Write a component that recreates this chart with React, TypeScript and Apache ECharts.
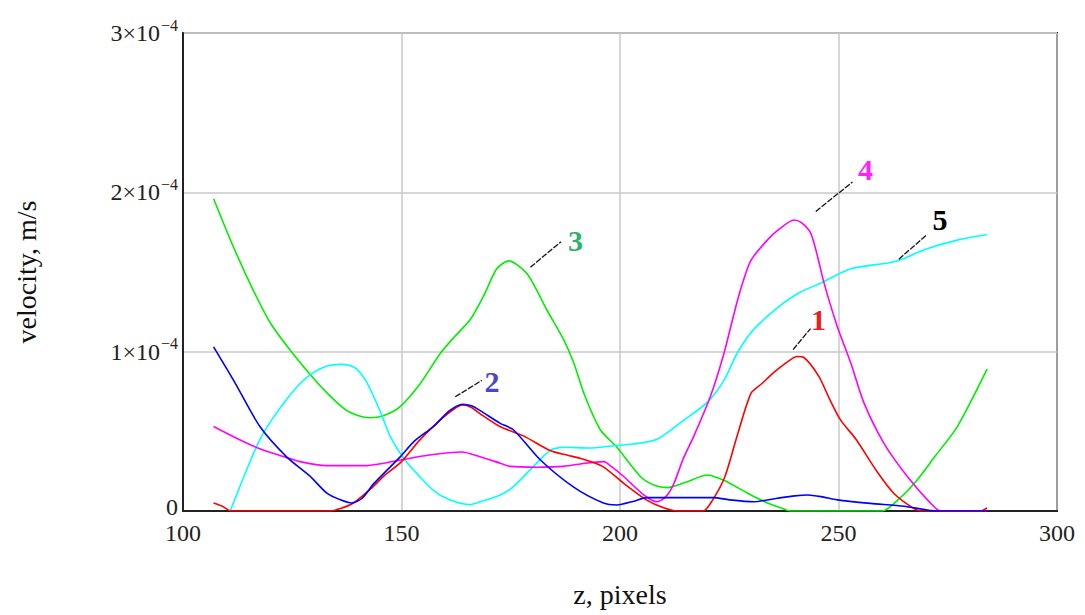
import React, { useEffect, useRef } from "react";
import * as echarts from "echarts";

// z (pixels) and velocity in units of 1e-4 m/s
const UNIT = 1e-4;

const curve1Red: number[][] = [
  [107, 0.05], [109, 0.03], [111, 0], [133.5, 0], [136, 0.015], [139, 0.05], [143, 0.14], [146, 0.22],
  [150, 0.31], [154, 0.44], [158, 0.55], [162, 0.64], [164, 0.665], [166, 0.65], [168, 0.61],
  [172.5, 0.53], [178, 0.47], [184, 0.38], [188, 0.35], [191, 0.33], [196, 0.28], [201, 0.17],
  [206, 0.07], [210, 0.02], [213.5, 0], [219, 0], [221, 0.06], [224, 0.215], [227, 0.49],
  [230, 0.74], [232.5, 0.8], [235, 0.865], [238, 0.93], [240.5, 0.97], [242, 0.965],
  [245.5, 0.845], [248, 0.7], [250.5, 0.57], [254, 0.45], [259, 0.24], [262.7, 0.11],
  [267, 0.02], [269, 0], [282.5, 0], [284, 0.02],
];

const curve2Blue: number[][] = [
  [107, 1.03], [112, 0.8], [117.6, 0.53], [123.7, 0.34], [129, 0.22], [133, 0.11], [136, 0.07],
  [138.6, 0.05], [141, 0.08], [143.6, 0.17], [149.7, 0.34], [153, 0.44], [157.3, 0.53],
  [161, 0.63], [164, 0.67], [166, 0.66], [168, 0.63], [172.6, 0.55], [175.6, 0.51],
  [181.8, 0.32], [189.4, 0.15], [196.2, 0.05], [199.3, 0.038], [203, 0.06], [206.2, 0.084],
  [221.4, 0.084], [225, 0.07], [230.6, 0.058], [236, 0.08], [240, 0.095], [243, 0.1],
  [246, 0.09], [249.7, 0.07], [257.3, 0.048], [265, 0.03], [272.6, 0], [284, 0],
];

const curve3Green: number[][] = [
  [107, 1.96], [111.5, 1.66], [116, 1.39], [120, 1.18], [124.5, 1.01], [129, 0.86], [133, 0.74],
  [137, 0.64], [140, 0.6], [142.8, 0.585], [146, 0.6], [149.7, 0.655], [154.3, 0.8],
  [158.9, 0.99], [162, 1.09], [165.7, 1.2], [168.8, 1.35], [171.8, 1.52], [174.5, 1.57],
  [178.7, 1.49], [183.3, 1.26], [187.1, 1.075], [189.4, 0.93], [192, 0.72], [195.5, 0.51],
  [199.3, 0.4], [204.7, 0.215], [208, 0.16], [210.8, 0.147], [215, 0.18], [219.9, 0.226],
  [224, 0.19], [229.1, 0.113], [233, 0.06], [236.7, 0.02], [239, 0], [260, 0], [264, 0.08],
  [268, 0.195], [272, 0.34], [277.2, 0.53], [284, 0.89],
];

const curve4Magenta: number[][] = [
  [107, 0.53], [112, 0.46], [117.6, 0.39], [122, 0.35], [126.8, 0.31], [132.9, 0.285],
  [142, 0.285], [149.7, 0.32], [156, 0.35], [163.8, 0.37], [168, 0.34], [172.6, 0.3],
  [174.9, 0.28], [181, 0.275], [187.1, 0.28], [192, 0.3], [196.3, 0.31], [198, 0.28],
  [200.9, 0.215], [205.5, 0.1], [208.5, 0.058], [210.5, 0.09], [212.3, 0.17], [214.5, 0.33],
  [216.9, 0.47], [220.7, 0.72], [223.8, 0.99], [226.1, 1.24], [227.6, 1.39], [229.9, 1.57],
  [233.7, 1.7], [236.5, 1.77], [239.8, 1.826], [241.5, 1.81], [243.6, 1.746], [245, 1.62],
  [246.7, 1.43], [249.7, 1.16], [252.8, 0.93], [255.8, 0.68], [260.4, 0.425], [265.8, 0.215],
  [271.1, 0.048], [273.4, 0], [284, 0],
];

const curve5Cyan: number[][] = [
  [110.8, 0], [114, 0.22], [117.6, 0.45], [120.5, 0.58], [123.7, 0.7], [126.8, 0.8],
  [129.9, 0.87], [133, 0.91], [136, 0.92], [138, 0.915], [139.8, 0.89], [141.8, 0.82],
  [143.6, 0.72], [145.5, 0.6], [147.4, 0.47], [150, 0.35], [152, 0.28], [157.3, 0.13],
  [161, 0.07], [165.7, 0.04], [168, 0.058], [172.6, 0.1], [175.6, 0.153], [179.5, 0.26],
  [184, 0.38], [187.1, 0.4], [193, 0.395], [198.6, 0.41], [203, 0.42], [208.5, 0.45],
  [214.6, 0.57], [219.9, 0.68], [223.8, 0.82], [226.8, 0.99], [230.6, 1.14], [236.7, 1.29],
  [241, 1.37], [245.9, 1.43], [252.8, 1.52], [261.9, 1.56], [265, 1.585], [269.6, 1.64],
  [277.2, 1.7], [284, 1.735],
];

// annotation label centres and leader lines [z, v(1e-4)]
const labelNames = ["1", "2", "3", "4", "5"];
const labelPos: number[][] = [[245.4, 1.2], [170.7, 0.81], [189.8, 1.7], [256.2, 2.145], [273.2, 1.83]];
const leaderStart: number[][] = [[239.6, 1.013], [162.3, 0.717], [179.5, 1.53], [244.8, 1.88], [263.8, 1.58]];
const leaderEnd: number[][] = [[243.6, 1.145], [168.4, 0.82], [186.5, 1.69], [253.2, 2.065], [270.3, 1.736]];

const lineColors = ["#ff0000", "#0000ff", "#00ee00", "#ff00ff", "#00ffff"];
const labelColors = ["#e82020", "#4848c4", "#30b070", "#ff20ff", "#000000"];

const xTicks = { min: 100, max: 300, interval: 50 };
const yTicks = { min: 0, max: 3, interval: 1 };

const FONT = "'Liberation Serif', 'Times New Roman', serif";

export default function App() {
  const ref = useRef<HTMLDivElement>(null);
  useEffect(() => {
    if (!ref.current) return;
    const chart = echarts.init(ref.current, undefined, { renderer: "svg" });
    const curves = [curve1Red, curve2Blue, curve3Green, curve4Magenta, curve5Cyan];
    const order = [2, 4, 3, 0, 1];
    const series = order.map((i) => ({
      type: "line",
      name: labelNames[i],
      data: curves[i].map((p) => [p[0], p[1] * UNIT]),
      showSymbol: false,
      smooth: 0.25,
      lineStyle: { color: lineColors[i], width: 1.6 },
      itemStyle: { color: lineColors[i] },
      z: 3,
      markPoint: {
        symbol: "circle",
        symbolSize: 0,
        silent: true,
        label: {
          show: true,
          position: "inside",
          formatter: labelNames[i],
          color: labelColors[i],
          fontFamily: FONT,
          fontWeight: "bold",
          fontSize: 30,
        },
        data: [{ coord: [labelPos[i][0], labelPos[i][1] * UNIT] }],
      },
      markLine: {
        silent: true,
        symbol: ["none", "none"],
        label: { show: false },
        lineStyle: { color: "#111", width: 1.3, type: [6, 1.5] },
        data: [[
          { coord: [leaderStart[i][0], leaderStart[i][1] * UNIT] },
          { coord: [leaderEnd[i][0], leaderEnd[i][1] * UNIT] },
        ]],
      },
    }));

    chart.setOption({
      animation: false,
      backgroundColor: "#ffffff",
      grid: {
        left: 183,
        right: 28,
        top: 33,
        bottom: 104,
        show: true,
        borderColor: "#222",
        borderWidth: 2,
        backgroundColor: "transparent",
      },
      xAxis: {
        type: "value",
        min: xTicks.min,
        max: xTicks.max,
        interval: xTicks.interval,
        name: "z, pixels",
        nameLocation: "middle",
        nameGap: 69,
        nameTextStyle: { fontFamily: FONT, fontSize: 28, color: "#111" },
        axisLine: { show: true, lineStyle: { color: "#222", width: 2 } },
        axisTick: { show: false },
        axisLabel: { fontFamily: FONT, fontSize: 24, color: "#222", margin: 11, lineHeight: 22 },
        splitLine: { show: true, lineStyle: { color: "#c8c8c8", width: 1.5 } },
      },
      yAxis: {
        type: "value",
        min: yTicks.min * UNIT,
        max: yTicks.max * UNIT,
        interval: yTicks.interval * UNIT,
        name: "velocity, m/s",
        nameLocation: "middle",
        nameRotate: 90,
        nameGap: 143,
        nameTextStyle: { fontFamily: FONT, fontSize: 28, color: "#111" },
        axisLine: { show: true, lineStyle: { color: "#222", width: 2 } },
        axisTick: { show: false },
        axisLabel: {
          margin: 5,
          formatter: (v: number) => {
            const n = Math.round(v / UNIT);
            return n === 0 ? "{z|0}" : `{m|${n}×10}{s|−4}`;
          },
          rich: {
            z: { fontFamily: FONT, fontSize: 24, color: "#222", lineHeight: 17, padding: [0, 0, 8, 0] },
            m: { fontFamily: FONT, fontSize: 24, color: "#222", lineHeight: 32 },
            s: { fontFamily: FONT, fontSize: 16, color: "#222", lineHeight: 14, verticalAlign: "top", padding: [0, 0, 0, 1] },
          },
        },
        splitLine: { show: true, lineStyle: { color: "#c8c8c8", width: 1.5 } },
      },
      series,
    });
    return () => chart.dispose();
  }, []);
  return (
    <div
      ref={ref}
      style={{ position: "fixed", left: 0, top: 0, width: 1085, height: 615, background: "#fff" }}
    />
  );
}
